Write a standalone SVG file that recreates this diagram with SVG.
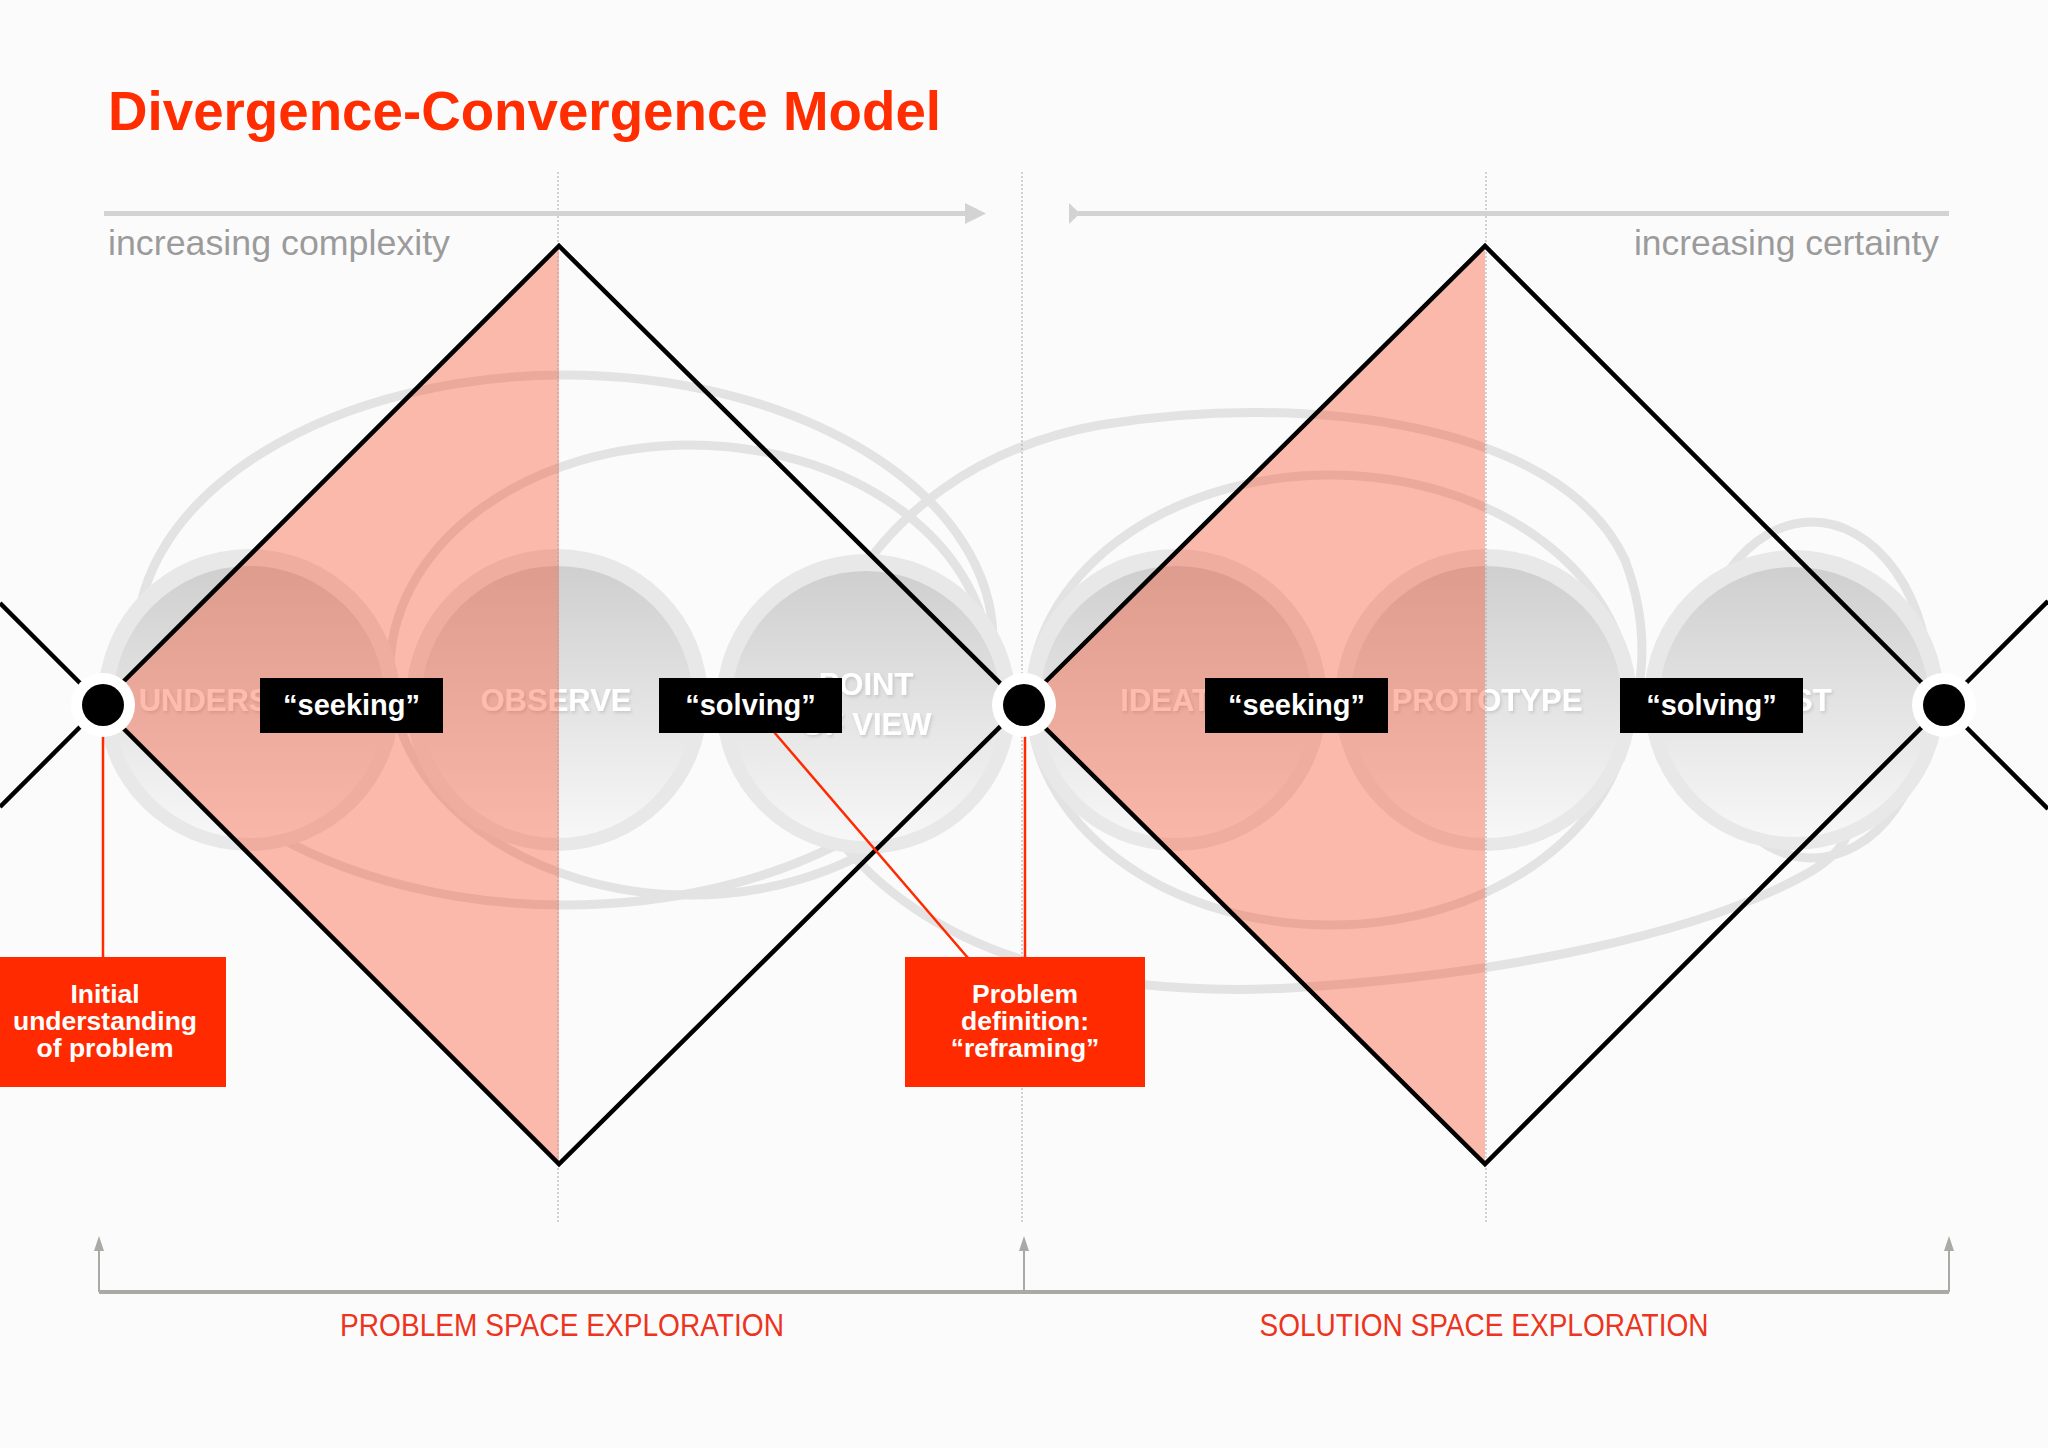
<svg xmlns="http://www.w3.org/2000/svg" width="2048" height="1448" viewBox="0 0 2048 1448">
<defs>
<linearGradient id="disk" x1="0" y1="0" x2="0" y2="1">
<stop offset="0" stop-color="#cfcfcf"/>
<stop offset="1" stop-color="#f7f7f7"/>
</linearGradient>
<filter id="sh" x="-10%" y="-30%" width="120%" height="160%">
<feDropShadow dx="1.5" dy="2" stdDeviation="1.5" flood-color="#000" flood-opacity="0.12"/>
</filter>
<style>
text{font-family:"Liberation Sans",Arial,Helvetica,sans-serif}
.loop{fill:none;stroke:#e3e3e3;stroke-width:9}
.ring{fill:#e8e8e8}
.disk{fill:url(#disk)}
.lab{font-size:31px;font-weight:bold;fill:#ffffff;text-anchor:middle;filter:url(#sh)}
.pink{fill:#f83a10;fill-opacity:0.34}
.dot{stroke:#a9a9a9;stroke-width:1;stroke-dasharray:2 2;fill:none}
.dia{fill:none;stroke:#000;stroke-width:4.5;stroke-linejoin:miter}
.red{stroke:#ff2a00;stroke-width:2.5;fill:none}
.bbox{fill:#000}
.btxt{font-size:29px;font-weight:bold;fill:#fff;text-anchor:middle}
.rbox{fill:#ff2a00}
.rtxt{font-size:26.5px;font-weight:bold;fill:#fff;text-anchor:middle}
.nout{fill:#fff}
.nin{fill:#000}
.axis{font-size:35px;fill:#9b9b9b}
.space{font-size:31px;fill:#ec3420;text-anchor:middle}
.brk{stroke:#a9a9a6;fill:none}
.ah{fill:#a9a9a6}
.tarr{stroke:#d3d3d3;stroke-width:5;fill:none}
.tah{fill:#d3d3d3}
</style>
</defs>
<rect width="2048" height="1448" fill="#fcfbfc"/>

<g id="ghost-loops">
<ellipse class="loop" cx="565" cy="640" rx="428" ry="265"/>
<ellipse class="loop" cx="690" cy="670" rx="300" ry="225"/>
<path class="loop" d="M 836,836 C 760,700 850,470 1100,425 C 1300,392 1560,420 1625,560 C 1655,640 1640,700 1620,760"/>
<path class="loop" d="M 836,836 C 950,980 1150,995 1290,988 C 1500,975 1700,935 1810,872 C 1850,848 1858,822 1842,800"/>
<ellipse class="loop" cx="1330" cy="700" rx="300" ry="225"/>
<ellipse class="loop" cx="1812" cy="690" rx="118" ry="168"/>
</g>

<g id="stage-understand">
<circle class="ring" cx="249" cy="700" r="151"/>
<circle class="disk" cx="249" cy="702" r="136"/>
<text class="lab" x="246" y="711">UNDERSTAND</text>
</g>
<g id="stage-observe">
<circle class="ring" cx="557" cy="700" r="151"/>
<circle class="disk" cx="557" cy="702" r="136"/>
<text class="lab" x="556" y="711">OBSERVE</text>
</g>
<g id="stage-pov">
<circle class="ring" cx="866" cy="704" r="150"/>
<circle class="disk" cx="866" cy="706" r="135"/>
<text class="lab" x="866" y="695">POINT</text>
<text class="lab" x="866" y="735">OF VIEW</text>
</g>
<g id="stage-ideate">
<circle class="ring" cx="1176" cy="700" r="151"/>
<circle class="disk" cx="1176" cy="702" r="136"/>
<text class="lab" x="1176" y="711">IDEATE</text>
</g>
<g id="stage-prototype">
<circle class="ring" cx="1486" cy="700" r="151"/>
<circle class="disk" cx="1486" cy="702" r="136"/>
<text class="lab" x="1487" y="711">PROTOTYPE</text>
</g>
<g id="stage-test">
<circle class="ring" cx="1794" cy="700" r="150"/>
<circle class="disk" cx="1794" cy="702" r="135"/>
<text class="lab" x="1792" y="711">TEST</text>
</g>

<g id="divergent-halves">
<polygon class="pink" points="100,705 559,246 559,1164"/>
<polygon class="pink" points="1022,705 1485,246 1485,1164"/>
</g>

<g id="guides">
<line class="dot" x1="558" y1="172" x2="558" y2="1224"/>
<line class="dot" x1="1022" y1="172" x2="1022" y2="1224"/>
<line class="dot" x1="1486" y1="172" x2="1486" y2="1224"/>
</g>

<g id="title">
<text x="108" y="130" font-size="56" font-weight="bold" fill="#ff2d00" textLength="833" lengthAdjust="spacingAndGlyphs">Divergence-Convergence Model</text>
</g>

<g id="axis-complexity">
<line class="tarr" x1="104" y1="213.5" x2="970" y2="213.5"/>
<polygon class="tah" points="965,203 986,213.5 965,224"/>
<text class="axis" x="108" y="255" textLength="342" lengthAdjust="spacingAndGlyphs">increasing complexity</text>
</g>
<g id="axis-certainty">
<line class="tarr" x1="1074" y1="213.5" x2="1949" y2="213.5"/>
<polygon class="tah" points="1069,203 1080,213.5 1069,224"/>
<text class="axis" x="1939" y="255" text-anchor="end" textLength="305" lengthAdjust="spacingAndGlyphs">increasing certainty</text>
</g>

<g id="connectors">
<polygon class="dia" points="100,705 559,246 1022,705 559,1164"/>
<polygon class="dia" points="1022,705 1485,246 1944,705 1485,1164"/>
<line class="dia" x1="102" y1="705" x2="0" y2="603"/>
<line class="dia" x1="102" y1="705" x2="0" y2="807"/>
<line class="dia" x1="1944" y1="705" x2="2048" y2="601"/>
<line class="dia" x1="1944" y1="705" x2="2048" y2="809"/>
<line class="red" x1="103" y1="705" x2="103" y2="958"/>
<line class="red" x1="1025" y1="705" x2="1025" y2="958"/>
<line class="red" x1="774" y1="732" x2="968" y2="958"/>
</g>

<g id="label-seeking-1">
<rect class="bbox" x="260" y="678" width="183" height="55"/>
<text class="btxt" x="351.5" y="715">“seeking”</text>
</g>
<g id="label-solving-1">
<rect class="bbox" x="659" y="678" width="183" height="55"/>
<text class="btxt" x="750.5" y="715">“solving”</text>
</g>
<g id="label-seeking-2">
<rect class="bbox" x="1205" y="678" width="183" height="55"/>
<text class="btxt" x="1296.5" y="715">“seeking”</text>
</g>
<g id="label-solving-2">
<rect class="bbox" x="1620" y="678" width="183" height="55"/>
<text class="btxt" x="1711.5" y="715">“solving”</text>
</g>

<g id="box-initial">
<rect class="rbox" x="-20" y="957" width="246" height="130"/>
<text class="rtxt" x="105" y="1003">Initial</text>
<text class="rtxt" x="105" y="1030">understanding</text>
<text class="rtxt" x="105" y="1057">of problem</text>
</g>
<g id="box-problem-definition">
<rect class="rbox" x="905" y="957" width="240" height="130"/>
<text class="rtxt" x="1025" y="1003">Problem</text>
<text class="rtxt" x="1025" y="1030">definition:</text>
<text class="rtxt" x="1025" y="1057">“reframing”</text>
</g>

<g id="node-1">
<circle class="nout" cx="103" cy="705" r="32"/>
<circle class="nin" cx="103" cy="705" r="21"/>
</g>
<g id="node-2">
<circle class="nout" cx="1024" cy="705" r="32"/>
<circle class="nin" cx="1024" cy="705" r="21"/>
</g>
<g id="node-3">
<circle class="nout" cx="1944" cy="705" r="32"/>
<circle class="nin" cx="1944" cy="705" r="21"/>
</g>

<g id="space-brackets">
<line class="brk" stroke-width="4" x1="99" y1="1292" x2="1949" y2="1292"/>
<line class="brk" stroke-width="2" x1="99" y1="1292" x2="99" y2="1248"/>
<line class="brk" stroke-width="2" x1="1024" y1="1292" x2="1024" y2="1248"/>
<line class="brk" stroke-width="2" x1="1949" y1="1292" x2="1949" y2="1248"/>
<polygon class="ah" points="94,1251 99,1236 104,1251"/>
<polygon class="ah" points="1019,1251 1024,1236 1029,1251"/>
<polygon class="ah" points="1944,1251 1949,1236 1954,1251"/>
<text class="space" x="562" y="1336" textLength="444" lengthAdjust="spacingAndGlyphs">PROBLEM SPACE EXPLORATION</text>
<text class="space" x="1484" y="1336" textLength="449" lengthAdjust="spacingAndGlyphs">SOLUTION SPACE EXPLORATION</text>
</g>
</svg>
